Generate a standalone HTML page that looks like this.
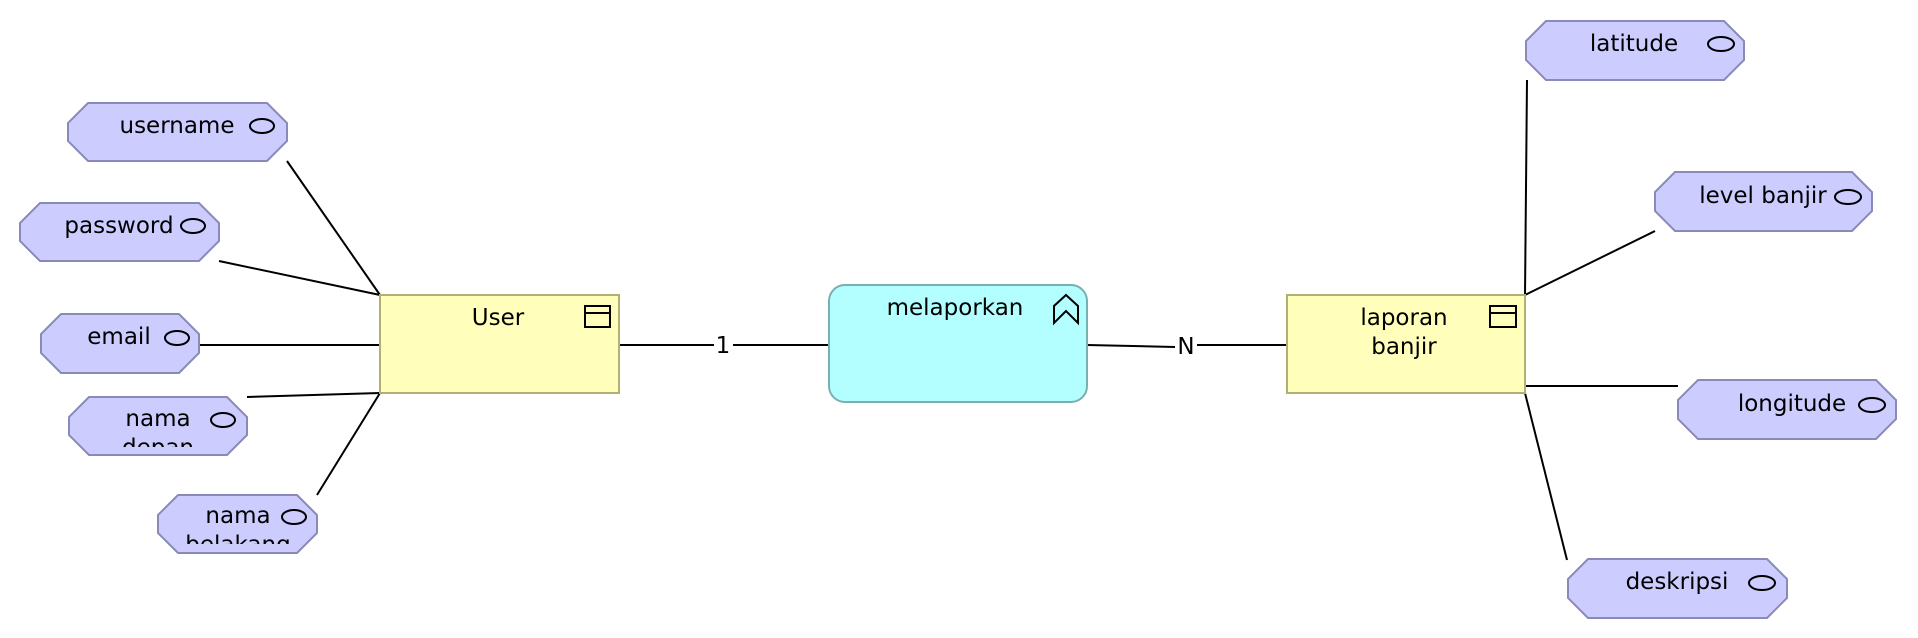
<!DOCTYPE html>
<html><head><meta charset="utf-8"><style>
html,body{margin:0;padding:0;background:#fff;width:1918px;height:638px;overflow:hidden}
svg{display:block}
text{font-family:"DejaVu Sans","Liberation Sans",sans-serif;font-size:23px;fill:#000}
.oct{fill:#ccccff;stroke:#8a8ab8;stroke-width:2}
.ln{stroke:#000;stroke-width:2;fill:none}
.ov{fill:none;stroke:#000;stroke-width:2}
</style></head><body>
<svg width="1918" height="638" viewBox="0 0 1918 638" xmlns="http://www.w3.org/2000/svg">
<defs>
<clipPath id="c1"><rect x="69" y="397" width="178" height="50"/></clipPath>
<clipPath id="c2"><rect x="158" y="495" width="159" height="49"/></clipPath>
</defs>
<line class="ln" x1="287" y1="161" x2="380" y2="295"/>
<line class="ln" x1="219" y1="261" x2="380" y2="295"/>
<line class="ln" x1="199" y1="345" x2="380" y2="345"/>
<line class="ln" x1="247" y1="397" x2="380" y2="393"/>
<line class="ln" x1="317" y1="495" x2="380" y2="393"/>
<line class="ln" x1="619" y1="345" x2="714" y2="345"/>
<line class="ln" x1="733" y1="345" x2="829" y2="345"/>
<line class="ln" x1="1087" y1="345" x2="1175" y2="347"/>
<line class="ln" x1="1197" y1="345" x2="1287" y2="345"/>
<line class="ln" x1="1527" y1="80" x2="1525" y2="295"/>
<line class="ln" x1="1525" y1="295" x2="1655" y2="231"/>
<line class="ln" x1="1525" y1="386" x2="1678" y2="386"/>
<line class="ln" x1="1525" y1="393" x2="1567" y2="560"/>
<text x="723" y="346" text-anchor="middle" dominant-baseline="central">1</text>
<text x="1186" y="347" text-anchor="middle" dominant-baseline="central">N</text>

<rect x="380" y="295" width="239" height="98" fill="#ffffbb" stroke="#b0b070" stroke-width="2"/>
<rect x="585" y="306" width="25" height="21" fill="none" stroke="#000" stroke-width="2"/>
<line x1="585" y1="313" x2="610" y2="313" stroke="#000" stroke-width="2"/>
<text x="498" y="318" text-anchor="middle" dominant-baseline="central">User</text>

<rect x="1287" y="295" width="238" height="98" fill="#ffffbb" stroke="#b0b070" stroke-width="2"/>
<rect x="1490" y="306" width="26" height="21" fill="none" stroke="#000" stroke-width="2"/>
<line x1="1490" y1="313" x2="1516" y2="313" stroke="#000" stroke-width="2"/>
<text x="1404" y="318" text-anchor="middle" dominant-baseline="central">laporan</text>
<text x="1404" y="347" text-anchor="middle" dominant-baseline="central">banjir</text>

<rect x="829" y="285" width="258" height="117" rx="16" fill="#b3ffff" stroke="#78b0b0" stroke-width="2"/>
<text x="955" y="308" text-anchor="middle" dominant-baseline="central">melaporkan</text>
<path d="M1054 323 V306 L1066 295 L1078 306 V323 L1066 311 Z" fill="none" stroke="#000" stroke-width="2"/>

<g>
<polygon class="oct" points="88,103 267,103 287,123 287,141 267,161 88,161 68,141 68,123"/>
<text x="177" y="126" text-anchor="middle" dominant-baseline="central">username</text>
<ellipse class="ov" cx="262" cy="126" rx="12" ry="7"/>

<polygon class="oct" points="40,203 199,203 219,223 219,241 199,261 40,261 20,241 20,223"/>
<text x="119" y="226" text-anchor="middle" dominant-baseline="central">password</text>
<ellipse class="ov" cx="193" cy="226" rx="12" ry="7"/>

<polygon class="oct" points="61,314 179,314 199,334 199,353 179,373 61,373 41,353 41,334"/>
<text x="119" y="337" text-anchor="middle" dominant-baseline="central">email</text>
<ellipse class="ov" cx="177" cy="338" rx="12" ry="7"/>

<polygon class="oct" points="89,397 227,397 247,417 247,435 227,455 89,455 69,435 69,417"/>
<g clip-path="url(#c1)">
<text x="158" y="419" text-anchor="middle" dominant-baseline="central">nama</text>
<text x="158" y="448" text-anchor="middle" dominant-baseline="central">depan</text>
</g>
<ellipse class="ov" cx="223" cy="420" rx="12" ry="7"/>

<polygon class="oct" points="178,495 297,495 317,515 317,533 297,553 178,553 158,533 158,515"/>
<g clip-path="url(#c2)">
<text x="238" y="516" text-anchor="middle" dominant-baseline="central">nama</text>
<text x="238" y="545" text-anchor="middle" dominant-baseline="central">belakang</text>
</g>
<ellipse class="ov" cx="294" cy="517" rx="12" ry="7"/>

<polygon class="oct" points="1546,21 1724,21 1744,41 1744,60 1724,80 1546,80 1526,60 1526,41"/>
<text x="1634" y="44" text-anchor="middle" dominant-baseline="central">latitude</text>
<ellipse class="ov" cx="1721" cy="44" rx="13" ry="7"/>

<polygon class="oct" points="1675,172 1852,172 1872,192 1872,211 1852,231 1675,231 1655,211 1655,192"/>
<text x="1763" y="196" text-anchor="middle" dominant-baseline="central">level banjir</text>
<ellipse class="ov" cx="1848" cy="197" rx="13" ry="7"/>

<polygon class="oct" points="1698,380 1876,380 1896,400 1896,419 1876,439 1698,439 1678,419 1678,400"/>
<text x="1792" y="404" text-anchor="middle" dominant-baseline="central">longitude</text>
<ellipse class="ov" cx="1872" cy="405" rx="13" ry="7"/>

<polygon class="oct" points="1588,559 1767,559 1787,579 1787,598 1767,618 1588,618 1568,598 1568,579"/>
<text x="1677" y="582" text-anchor="middle" dominant-baseline="central">deskripsi</text>
<ellipse class="ov" cx="1762" cy="583" rx="13" ry="7"/>
</g>
</svg>
</body></html>
